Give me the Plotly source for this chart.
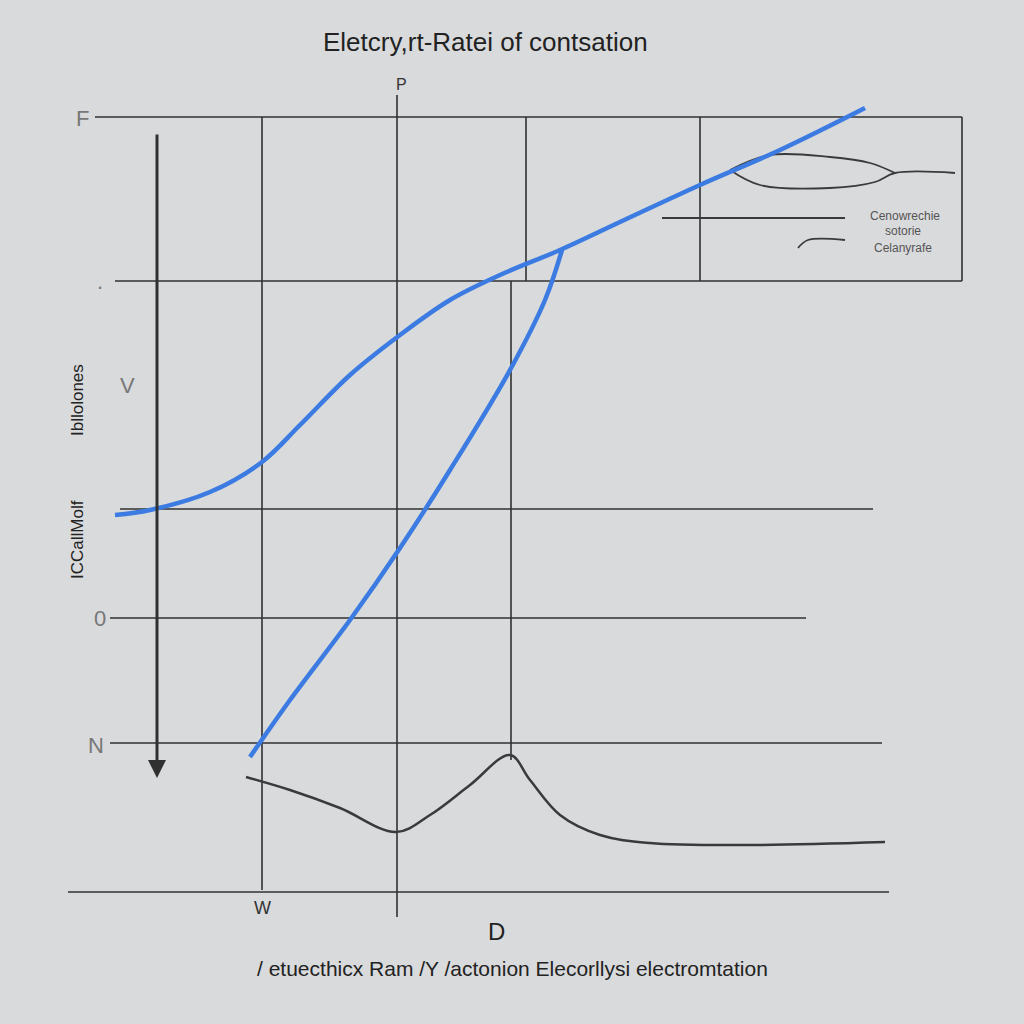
import plotly.graph_objects as go

# ---- data (chart units: x 0..1024 left->right, y 0..1024 top->bottom) ----
grid_h_y = [117, 281, 509, 618, 743, 892]
grid_h_x0 = [95, 115, 120, 110, 110, 68]
grid_h_x1 = [962, 962, 873, 806, 882, 889]

grid_v_x = [262, 397, 526, 700, 962, 511]
grid_v_y0 = [117, 95, 117, 117, 117, 281]
grid_v_y1 = [890, 917, 281, 281, 281, 760]

blue1_x = [115, 150, 210, 262, 300, 350, 400, 450, 500, 560, 620, 700, 780, 865]
blue1_y = [515, 510, 492, 462, 425, 375, 335, 300, 275, 250, 222, 185, 150, 108]

blue2_x = [250, 290, 350, 400, 450, 510, 545, 562]
blue2_y = [757, 700, 620, 548, 470, 370, 300, 250]

gray_x = [246, 290, 340, 396, 430, 470, 510, 530, 560, 600, 650, 750, 885]
gray_y = [777, 790, 808, 832, 815, 785, 755, 780, 815, 835, 843, 845, 842]

ell_top_x = [730, 770, 830, 870, 895]
ell_top_y = [170, 155, 157, 163, 173]
ell_bot_x = [730, 760, 830, 875, 895, 955]
ell_bot_y = [170, 185, 188, 182, 173, 173]

leg1_x = [662, 845]
leg1_y = [218, 218]
leg2_x = [798, 808, 845]
leg2_y = [248, 240, 240]

legend_texts = ["Cenowrechie", "sotorie", "Celanyrafe"]
legend_tx = [905, 903, 903]
legend_ty = [216, 231, 248]

ytick_labels = ["F", ".", "V", "0", "N"]
ytick_x = [82, 100, 127, 100, 96]
ytick_y = [118, 281, 385, 618, 745]

title_text = "Eletcry,rt-Ratei of contsation"
xlabel_text = "/ etuecthicx Ram /Y /actonion Elecorllysi electromtation"
ylab1 = "Ibllolones"
ylab2 = "ICCallMolf"

fig = go.Figure()
line_col = "#303030"

for y, a, b in zip(grid_h_y, grid_h_x0, grid_h_x1):
    fig.add_trace(go.Scatter(x=[a, b], y=[y, y], mode="lines",
                             line=dict(color=line_col, width=1.6), hoverinfo="skip"))
for x, a, b in zip(grid_v_x, grid_v_y0, grid_v_y1):
    fig.add_trace(go.Scatter(x=[x, x], y=[a, b], mode="lines",
                             line=dict(color=line_col, width=1.6), hoverinfo="skip"))

fig.add_trace(go.Scatter(x=gray_x, y=gray_y, mode="lines", line_shape="spline",
                         line=dict(color="#3a3a3a", width=2.5), hoverinfo="skip"))
for xs, ys in [(ell_top_x, ell_top_y), (ell_bot_x, ell_bot_y), (leg1_x, leg1_y), (leg2_x, leg2_y)]:
    fig.add_trace(go.Scatter(x=xs, y=ys, mode="lines", line_shape="spline",
                             line=dict(color="#3a3a3a", width=1.8), hoverinfo="skip"))

fig.add_trace(go.Scatter(x=blue1_x, y=blue1_y, mode="lines", line_shape="spline",
                         line=dict(color="#3b7be2", width=4.5), hoverinfo="skip"))
fig.add_trace(go.Scatter(x=blue2_x, y=blue2_y, mode="lines", line_shape="spline",
                         line=dict(color="#3b7be2", width=4.5), hoverinfo="skip"))

# vertical arrow
fig.add_annotation(x=157, y=778, ax=157, ay=133, xref="x", yref="y", axref="x", ayref="y",
                   text="", showarrow=True, arrowhead=2, arrowsize=1.2, arrowwidth=3,
                   arrowcolor="#303030")

for t, x, y in zip(legend_texts, legend_tx, legend_ty):
    fig.add_annotation(x=x, y=y, text=t, showarrow=False, xref="x", yref="y",
                       font=dict(family="Liberation Sans", size=12, color="#555"))
for t, x, y in zip(ytick_labels, ytick_x, ytick_y):
    fig.add_annotation(x=x, y=y, text=t, showarrow=False, xref="x", yref="y",
                       font=dict(family="Liberation Sans", size=22, color="#777"))

fig.add_annotation(x=77, y=400, text=ylab1, textangle=-90, showarrow=False, xref="x", yref="y",
                   font=dict(family="Liberation Sans", size=17, color="#222"))
fig.add_annotation(x=77, y=540, text=ylab2, textangle=-90, showarrow=False, xref="x", yref="y",
                   font=dict(family="Liberation Sans", size=17, color="#222"))
fig.add_annotation(x=262, y=908, text="W", showarrow=False, xref="x", yref="y",
                   font=dict(family="Liberation Sans", size=18, color="#333"))
fig.add_annotation(x=496, y=931, text="D", showarrow=False, xref="x", yref="y",
                   font=dict(family="Liberation Sans", size=24, color="#222"))
fig.add_annotation(x=512, y=968, text=xlabel_text, showarrow=False, xref="x", yref="y",
                   font=dict(family="Liberation Sans", size=21, color="#222"))
fig.add_annotation(x=485, y=42, text=title_text, showarrow=False, xref="x", yref="y",
                   font=dict(family="Liberation Sans", size=26, color="#222"))
fig.add_annotation(x=401, y=84, text="P", showarrow=False, xref="x", yref="y",
                   font=dict(family="Liberation Sans", size=16, color="#333"))

fig.update_layout(
    width=1024, height=1024, margin=dict(l=0, r=0, t=0, b=0),
    paper_bgcolor="#d9dadc", plot_bgcolor="#d9dadc", showlegend=False,
    xaxis=dict(range=[0, 1024], visible=False, fixedrange=True),
    yaxis=dict(range=[1024, 0], visible=False, fixedrange=True),
)
fig.write_html("out.html", config={"displayModeBar": False},
               post_script="document.body.style.margin='0';document.body.style.background='#d9dadc';"
                           "document.body.style.overflow='hidden';")
